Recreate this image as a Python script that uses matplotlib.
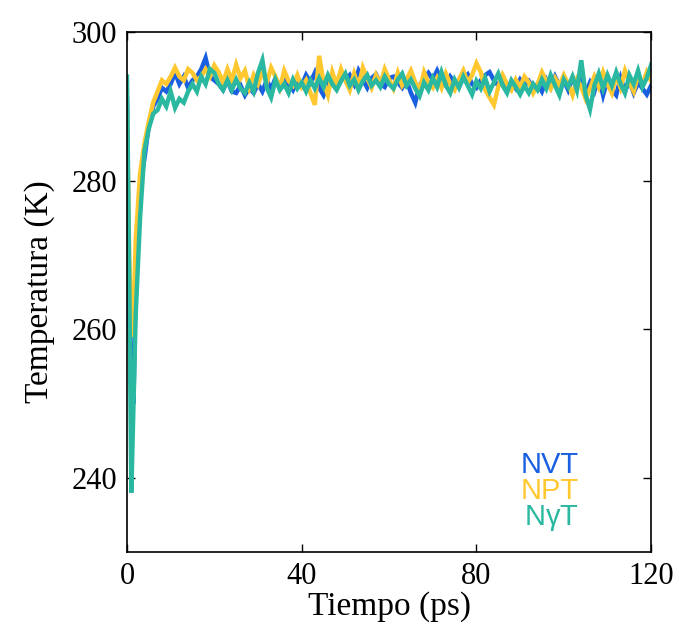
import matplotlib.pyplot as plt

# Tiempo (ps): finer steps over the initial drop, then 1 ps
tiempo = [0, 0.5, 1, 1.5, 2] + list(range(3, 121))

# Temperatura (K)
nvt = [291.0, 262.0, 252.0, 250.0, 268.0, 279.0, 283.0, 287.5, 290.0, 291.0,
       292.5, 292.0, 293.0, 294.5, 293.0, 294.0, 292.5, 293.5, 294.0, 295.0,
       296.5, 294.0, 293.5,
       293.0, 292.2, 293.5, 292.0, 291.8, 292.8, 291.5, 292.5, 291.8, 293.0,
       292.0, 293.5, 292.3, 293.8, 292.5, 294.0, 293.0, 292.2, 293.6, 292.8,
       294.2, 293.2, 294.5, 292.5, 291.5, 293.0, 294.0, 293.2, 294.6, 293.5,
       294.2, 293.0, 294.8, 293.6, 292.5, 293.8, 294.3, 293.0, 292.6, 293.8,
       294.0, 293.2, 292.5, 293.5, 291.8, 290.5, 292.8, 293.8, 294.5, 293.6,
       294.8, 293.5, 292.8, 294.0, 293.2, 292.6, 293.8, 294.3, 293.0, 292.5,
       293.5, 294.2, 294.6, 293.5, 292.8, 293.6, 292.6, 293.2, 292.4, 293.6,
       292.8, 293.4, 292.5, 293.0, 292.0, 293.6, 292.5, 294.0, 292.8, 293.5,
       292.2, 293.8, 292.6, 293.5, 291.8, 293.2, 292.0, 294.0, 291.5, 293.6,
       292.2, 291.5, 293.8, 292.0, 293.4, 291.8, 293.2, 292.4, 291.6, 292.8]

npt = [289.0, 270.0, 259.0, 262.0, 272.0, 281.0, 285.0, 288.0, 290.5, 292.0,
       293.5, 293.0, 294.0, 295.2, 294.0, 293.5, 295.0, 294.5, 293.5, 294.0,
       295.0, 294.0, 295.5,
       294.6, 293.2, 295.0, 293.5, 295.6, 293.8, 294.8, 292.5, 294.2, 293.0,
       294.6, 293.2, 295.2, 294.0, 292.5, 294.8, 293.4, 292.8, 294.2, 292.6,
       293.5, 291.8, 290.2, 296.8, 293.2, 291.5, 294.6, 292.8, 295.0, 293.5,
       292.2, 294.4, 292.6, 295.2, 293.8, 292.5, 294.2, 293.0, 295.0, 293.6,
       292.4, 294.5, 292.8, 293.6, 294.8, 293.2, 292.2, 294.6, 293.2, 292.5,
       293.8, 292.5, 294.4, 293.0, 292.2, 293.6, 294.8, 293.2, 294.2, 295.8,
       294.6, 292.2, 291.2, 290.2, 292.6, 294.2, 293.0, 292.2, 293.6, 292.6,
       294.0, 293.2, 291.8, 293.0, 294.6, 293.4, 292.4, 293.8, 292.8, 294.2,
       293.0, 291.5, 293.6, 292.6, 291.0, 292.4, 294.0, 292.6, 294.6, 293.0,
       291.8, 294.2, 292.5, 294.8, 293.2, 292.0, 294.2, 293.0, 294.6, 293.4]

ngt = [294.0, 268.0, 238.0, 250.0, 262.0, 275.0, 284.0, 287.0, 289.0, 289.5,
       291.0, 290.0, 292.0, 289.8, 291.0, 290.5, 292.0, 293.0, 292.0, 294.0,
       293.0, 295.0, 294.5,
       293.0, 292.2, 293.5, 292.2, 293.6, 292.4, 291.8, 293.2, 292.0, 294.5,
       296.2, 292.5, 291.2, 293.6, 292.2, 293.0, 291.8, 293.6, 292.4, 293.2,
       292.0, 293.5, 292.4, 293.8, 292.6, 294.2, 293.0, 292.2, 293.4, 294.4,
       292.8, 293.6, 292.2, 293.4, 294.2, 292.8, 293.5, 292.6, 294.0, 293.0,
       292.4, 293.6, 294.4, 292.8, 293.6, 292.4, 291.4, 293.2, 292.2, 293.8,
       292.6, 294.6, 292.8, 291.8, 293.6, 292.5, 294.0, 292.8, 291.6, 293.4,
       292.4, 293.8, 292.0, 293.2, 294.4, 292.8, 291.8, 293.5, 292.6, 291.6,
       292.8, 291.8, 293.0, 292.2, 293.6, 292.4, 294.2, 292.8, 291.5, 293.6,
       292.6, 294.0, 292.2, 296.2, 291.5, 289.6, 292.8, 294.4, 292.4, 294.2,
       292.8, 294.6, 293.0, 291.8, 294.2, 293.0, 294.8, 292.6, 293.8, 295.6]

series = [('NVT', nvt, '#1a5fe0'),
          ('NPT', npt, '#ffc830'),
          (r'N$\gamma$T', ngt, '#2bb8a0')]

xticks = [0, 40, 80, 120]
yticks = [240, 260, 280, 300]

plt.rcParams['font.family'] = ['Liberation Serif', 'DejaVu Serif']
plt.rcParams['mathtext.fontset'] = 'custom'
plt.rcParams['mathtext.it'] = 'Liberation Sans'

fig = plt.figure(figsize=(6.79, 6.28), dpi=100)
ax = fig.add_axes([0.187, 0.121, 0.772, 0.828])

for name, vals, col in series:
    ax.plot(tiempo, vals, color=col, lw=3.2, solid_joinstyle='miter')

ax.set_xlim(0, 120)
ax.set_ylim(230, 300)
ax.set_xticks(xticks)
ax.set_yticks(yticks)
ax.tick_params(direction='in', length=6, width=1, labelsize=22,
               top=True, right=True, pad=7)
for s in ax.spines.values():
    s.set_linewidth(1.2)

ax.set_xlabel('Tiempo (ps)', fontsize=24, labelpad=0)
ax.set_ylabel('Temperatura (K)', fontsize=24, labelpad=12)

# coloured labels instead of a legend box
ypos = [0.167, 0.117, 0.066]
for (name, vals, col), yp in zip(series, ypos):
    ax.text(0.861, yp, name, color=col, fontsize=21, ha='right', va='center',
            transform=ax.transAxes, family=['Liberation Sans', 'DejaVu Sans'])

fig.savefig('out.png', dpi=100)
